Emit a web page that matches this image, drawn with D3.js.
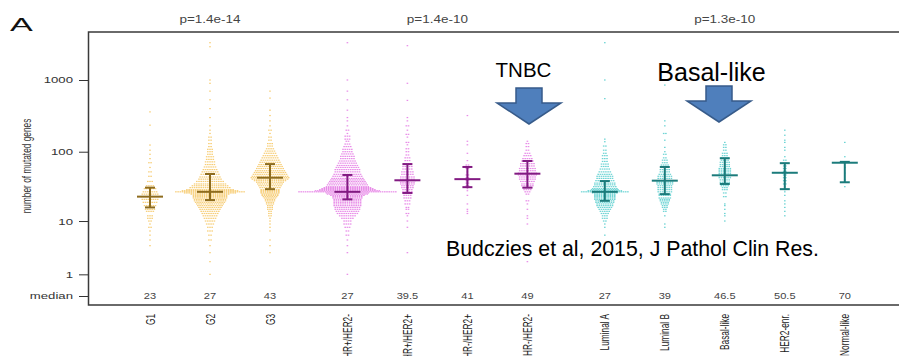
<!DOCTYPE html>
<html>
<head>
<meta charset="utf-8">
<script src="https://cdn.jsdelivr.net/npm/d3@7"></script>
<style>
  body { margin: 0; background: #fff; }
  svg { display: block; font-family: "Liberation Sans", Arial, Helvetica, sans-serif; }
</style>
</head>
<body>
<svg id="chart" width="899" height="356"></svg>
<script>
// ---- data -------------------------------------------------------------
const categories = ["G1", "G2", "G3", "HR+/HER2-", "HR+/HER2+", "HR-/HER2+", "HR-/HER2-",
                    "Luminal A", "Luminal B", "Basal-like", "HER2-enr.", "Normal-like"];
// 0 = histological grade, 1 = receptor status, 2 = PAM50 subtype
const classification = [0, 0, 0, 1, 1, 1, 1, 2, 2, 2, 2, 2];
const pValues = ["p=1.4e-14", "p=1.4e-10", "p=1.3e-10"];
const medians = [23, 27, 43, 27, 39.5, 41, 49, 27, 39, 46.5, 50.5, 70];
const lowerQuartiles = [16, 20.5, 29.5, 21, 26, 31.5, 31, 20, 25, 35, 29.5, 37];
const upperQuartiles = [31, 48.5, 67, 47, 67, 61, 74, 38.5, 61, 81, 69, 72];
const yTickValues = [1000, 100, 10, 1];

// beeswarm rows: [number of mutated genes, tumours in the row]
const swarmG1 = [[360,1],[235,1],[124,1],[105,1],[92,1],[80,1],[70,2],[60,1],[52,2],[45,2],[38,3],[33,4],
  [30,6],[27,7],[25,8],[23,9],[21,8],[19,7],[17,6],[15,5],[14,4],[12,3],[11,3],[10,2],[9,1],[8,2],[7,1],[6,1],[5,1],[4,1]];
const swarmG2 = [[3300,1],[2900,1],[1000,1],[900,1],[700,1],[530,1],[400,1],[300,1],[230,1],[200,1],[180,1],
  [160,2],[145,2],[130,2],[118,2],[108,3],[100,3],[92,3],[85,4],[78,4],[72,5],[66,5],[61,6],[56,7],[52,8],
  [48,9],[44,10],[41,11],[38,13],[35,15],[33,17],[31,19],[29,22],[28,26],[27,32],[26,24],[25,18],[24,16],
  [23,16],[22,16],[21,15],[20,15],[19,14],[18,13],[17,12],[16,11],[15,10],[14,9],[13,8],[12,7],[11,6],
  [10,5],[9,4],[8,3],[7,3],[6,2],[5,2],[4,1],[3,1],[2,1],[1,1]];
const swarmG3 = [[700,1],[560,1],[380,1],[320,1],[270,1],[230,1],[200,2],[180,1],[160,2],[145,2],[130,3],
  [120,3],[110,4],[102,5],[95,6],[88,7],[82,8],[76,9],[71,10],[66,11],[62,12],[58,13],[54,14],[51,15],
  [48,16],[45,17],[43,18],[41,17],[39,15],[37,13],[35,12],[33,11],[31,10],[29,9],[28,9],[27,9],[26,9],
  [25,8],[24,8],[23,7],[22,6],[21,5],[20,5],[19,4],[18,4],[17,3],[16,3],[15,3],[14,2],[13,2],[12,2],
  [11,1],[10,1],[9,1],[8,1],[7,1],[5,1],[4,1],[3,1]];
const swarmHRposHER2neg = [[3300,1],[1000,1],[700,1],[530,1],[380,1],[300,1],[270,1],[230,1],[200,2],[180,1],
  [165,3],[150,3],[140,2],[128,3],[118,4],[108,5],[100,5],[93,6],[86,7],[80,7],[74,8],[69,9],[64,10],[60,11],
  [56,12],[52,12],[48,13],[45,14],[42,15],[40,16],[38,17],[36,18],[34,19],[32,20],[31,22],[30,24],[29,26],
  [28,30],[27,45],[26,20],[25,19],[24,16],[23,14],[22,14],[21,13],[20,13],[19,13],[18,13],[17,13],[16,12],
  [15,12],[14,11],[13,10],[12,8],[11,6],[10,4],[9,4],[8,3],[7,2],[6,2],[5,1],[4,1],[3,1],[1,1]];
const swarmHRposHER2pos = [[3000,1],[900,1],[520,1],[300,1],[270,1],[230,2],[200,1],[175,2],[160,1],[135,2],
  [125,1],[110,2],[100,2],[90,2],[82,3],[75,3],[68,4],[62,5],[57,5],[52,6],[48,6],[44,7],[41,7],[39,8],
  [37,7],[35,7],[33,6],[31,6],[29,5],[27,5],[26,5],[24,4],[22,4],[20,3],[18,3],[16,2],[15,2],[13,2],
  [12,1],[10,1],[8,1],[3,1]];
const swarmHRnegHER2pos = [[320,1],[140,1],[125,1],[95,1],[75,1],[65,2],[58,2],[52,1],[47,2],[43,2],[41,2],
  [39,2],[36,2],[33,2],[30,1],[28,1],[24,1],[18,1],[15,1],[14,1],[13,1]];
const swarmHRnegHER2neg = [[140,1],[130,2],[118,2],[105,2],[95,3],[88,4],[80,5],[74,6],[68,7],[63,7],[58,8],
  [54,8],[50,9],[47,9],[44,8],[41,8],[38,7],[35,6],[33,6],[31,5],[29,4],[27,3],[25,2],[20,2],[18,1],[15,1],
  [12,1],[11,1],[9,1],[2,1]];
const swarmLuminalA = [[3300,1],[1000,1],[550,1],[150,1],[138,1],[120,2],[105,2],[95,2],[88,3],[80,3],[73,3],
  [67,4],[62,4],[57,5],[52,6],[48,7],[45,8],[42,8],[39,9],[36,10],[34,10],[32,11],[30,12],[29,13],[28,16],
  [27,22],[26,12],[25,10],[24,10],[23,10],[22,10],[21,10],[20,9],[19,9],[18,8],[17,8],[16,7],[15,6],[14,5],
  [13,4],[12,3],[11,3],[10,2],[9,1],[8,1],[6,1]];
const swarmLuminalB = [[850,1],[270,1],[230,1],[180,2],[145,1],[115,1],[100,1],[92,2],[82,2],[76,3],[70,3],
  [65,4],[60,4],[56,5],[52,5],[48,6],[45,7],[42,7],[39,8],[37,8],[35,8],[33,7],[31,7],[29,7],[27,7],[25,6],
  [24,6],[22,6],[21,5],[20,5],[19,4],[18,4],[17,3],[16,3],[15,2],[14,2],[12,1],[9,1],[8,1]];
const swarmBasalLike = [[135,1],[125,2],[115,2],[105,2],[95,3],[88,3],[82,4],[76,4],[71,5],[66,5],[62,5],
  [58,6],[55,6],[52,6],[49,6],[46,6],[43,6],[40,5],[37,5],[35,4],[33,4],[31,3],[29,3],[26,2],[23,2],[18,1],
  [17,1],[15,1],[13,1],[12,1],[10,1]];
const swarmHER2enriched = [[200,1],[170,1],[145,1],[135,1],[115,1],[105,1],[85,1],[76,2],[69,2],[63,2],[58,2],
  [53,2],[50,3],[47,2],[43,2],[39,2],[35,2],[32,1],[29,1],[27,1],[24,1],[20,1],[18,1],[16,1],[14,1],[12,1]];
const swarmNormalLike = [[135,1],[85,1],[72,2],[70,1],[60,1],[50,1],[40,1],[37,1],[32,1]];

const swarms = [swarmG1, swarmG2, swarmG3, swarmHRposHER2neg, swarmHRposHER2pos, swarmHRnegHER2pos,
                swarmHRnegHER2neg, swarmLuminalA, swarmLuminalB, swarmBasalLike, swarmHER2enriched, swarmNormalLike];

// ---- styling ----------------------------------------------------------
const dotColors = ["#F4BE4A", "#E066E0", "#3CC6C6"];
const barColors = ["#8E6C1E", "#821A82", "#1B7B7B"];
const classGap = 0.29;          // extra space between the three classifications
const dotStep = 2.2;

const svg = d3.select("#chart");

// position along the x axis in units of one category
const slot = categories.map((c, i) => i + classGap * classification[i]);
const x = d3.scaleLinear().domain([0, 1]).range([150, 210]);
const cx = i => x(slot[i]);

// log scale on (count + 1), so that the median row sits at zero
const y = d3.scaleLog().domain([1, 1001]).range([296, 80]);
const yv = v => y(v + 1);

const frameLeft = 88.5, frameTop = 32, frameBottom = 305;

// helper for horizontally stretched text
function label(parent, px, py, str, opts) {
  const g = parent.append("g")
    .attr("transform", `translate(${px},${py}) scale(${opts.sx || 1},1)` + (opts.rotate ? ` rotate(${opts.rotate})` : ""));
  return g.append("text")
    .attr("text-anchor", opts.anchor || "middle")
    .attr("dy", opts.dy || "0.35em")
    .attr("font-size", opts.size)
    .attr("fill", opts.fill || "#333")
    .text(str);
}

// ---- swarms -----------------------------------------------------------
const plot = svg.append("g");
swarms.forEach((rows, i) => {
  const dots = [];
  rows.forEach(([v, n]) => {
    for (let k = 0; k < n; k++) dots.push({ v, off: (k - (n - 1) / 2) * dotStep });
  });
  plot.append("g")
    .attr("fill", dotColors[classification[i]])
    .selectAll("rect")
    .data(dots)
    .join("rect")
      .attr("x", d => cx(i) + d.off - 0.8)
      .attr("y", d => yv(d.v) - 0.6)
      .attr("width", 1.6)
      .attr("height", 1.2)
      .attr("opacity", 0.75);
});

// ---- median and interquartile bars ------------------------------------
const bars = plot.append("g").attr("fill", "none").attr("stroke-width", 2);
categories.forEach((c, i) => {
  const col = barColors[classification[i]];
  const g = bars.append("g").attr("stroke", col);
  g.append("line").attr("x1", cx(i)).attr("x2", cx(i)).attr("y1", yv(lowerQuartiles[i])).attr("y2", yv(upperQuartiles[i]));
  [lowerQuartiles[i], upperQuartiles[i]].forEach(q => {
    g.append("line").attr("x1", cx(i) - 5).attr("x2", cx(i) + 5).attr("y1", yv(q)).attr("y2", yv(q));
  });
  g.append("line").attr("x1", cx(i) - 13).attr("x2", cx(i) + 13).attr("y1", yv(medians[i])).attr("y2", yv(medians[i]));
});

// ---- frame ------------------------------------------------------------
svg.append("path")
  .attr("d", `M905,${frameTop}H${frameLeft}V${frameBottom}H905`)
  .attr("fill", "none").attr("stroke", "#3a3a3a").attr("stroke-width", 1.5);

// ---- y axis -----------------------------------------------------------
const yAxis = d3.axisLeft(y)
  .tickValues(yTickValues.concat([0]).map(v => v + 1))
  .tickFormat(d => d === 1 ? "median" : d3.format("d")(d - 1))
  .tickSize(9)
  .tickPadding(0);
const ya = svg.append("g").attr("transform", `translate(${frameLeft - 0.5},0)`).call(yAxis);
ya.select(".domain").remove();
ya.selectAll(".tick line").attr("stroke", "#333");
ya.selectAll(".tick text")
  .attr("x", null).attr("dy", "0.35em")
  .attr("transform", "translate(-15,0) scale(1.55,1)")
  .attr("font-size", 8.5).attr("fill", "#333")
  .attr("font-family", "Liberation Sans, Arial, sans-serif");

label(svg, 27, 166, "number of mutated genes", { size: 8.3, sx: 1.5, rotate: -90, fill: "#333" });

// ---- median values and category labels -------------------------------
categories.forEach((c, i) => {
  label(svg, cx(i), yv(0), String(medians[i]), { size: 8.5, sx: 1.3, fill: "#444" });
  label(svg, cx(i), 314, c, { size: 8.3, sx: 1.6, rotate: -90, anchor: "end", fill: "#222" });
});

// ---- p values over each classification --------------------------------
pValues.forEach((p, k) => {
  const members = d3.range(categories.length).filter(i => classification[i] === k);
  label(svg, d3.mean(members, cx), 19, p, { size: 10, sx: 1.35, fill: "#444" });
});

// ---- panel letter and annotations --------------------------------------
label(svg, 10, 25, "A", { size: 18, sx: 1.9, anchor: "start", dy: 0, fill: "#111" });

function downArrow(tipX, tipY) {
  const p = d3.path();
  p.moveTo(tipX - 13, tipY - 36); p.lineTo(tipX + 13, tipY - 36); p.lineTo(tipX + 13, tipY - 21);
  p.lineTo(tipX + 32, tipY - 21); p.lineTo(tipX, tipY); p.lineTo(tipX - 32, tipY - 21);
  p.lineTo(tipX - 13, tipY - 21); p.closePath();
  svg.append("path").attr("d", p.toString())
    .attr("fill", "#4F7FBC").attr("stroke", "#375B8A").attr("stroke-width", 1.5);
}
const ann = svg.append("g").attr("fill", "#000").attr("font-family", "Liberation Sans, Arial, sans-serif");
ann.append("text").attr("x", 523.5).attr("y", 77).attr("text-anchor", "middle").attr("font-size", 20.5).text("TNBC");
downArrow(529, 124);
ann.append("text").attr("x", 711.5).attr("y", 81).attr("text-anchor", "middle").attr("font-size", 25).text("Basal-like");
downArrow(719, 122);
ann.append("text").attr("x", 446).attr("y", 256).attr("font-size", 21.3).text("Budczies et al, 2015, J Pathol Clin Res.");
</script>
</body>
</html>
